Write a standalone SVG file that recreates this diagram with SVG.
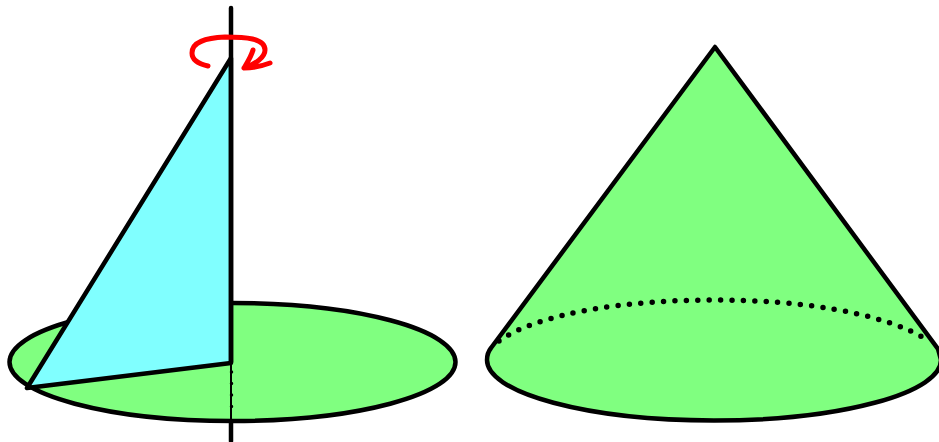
<svg xmlns="http://www.w3.org/2000/svg" width="939" height="442" viewBox="0 0 939 442">
<style>
.o{stroke:#000;stroke-width:4.500;stroke-linejoin:round;stroke-linecap:round}
.g{fill:#80ff80}
.d{fill:none;stroke:#000;stroke-linecap:round}
</style>
<rect width="939" height="442" fill="#fff"/>
<g id="disk"><ellipse class="o g" cx="232.500" cy="362" rx="223" ry="59"/></g>
<g id="triangle"><path d="M231 58L27 388L231 363Z" fill="#80ffff" class="o"/></g>
<g id="axis">
<path class="o" d="M231 8V362"/>
<path class="o" d="M231 421V441"/>
<path d="M231 363V421" stroke="#000" stroke-width="2"/>
<path class="d" d="M231.500 372V408" stroke-width="3.500" stroke-dasharray="0 11.500"/>
</g>
<g id="rotation">
<path d="M208 66C199 64 192 60 192 53C192 42 205 38 225 37C245 37 265 38 265 50C265 57 256 64 244 68M253 50C251 57 247 63 244 68C251 68 262 66 270 63" fill="none" stroke="#ff0000" stroke-width="5" stroke-linecap="round" stroke-linejoin="round"/>
</g>
<g id="cone">
<path class="o g" d="M715 47L938 349L941 360A227 60.500 0 0 1 487 360Q487 353 491 348Z"/>
<path class="d" stroke-width="5.500" stroke-dasharray="0 11.400" d="M499 341C540 312 630 300 714 300C800 300 880 312 926 339"/>
</g>
</svg>
